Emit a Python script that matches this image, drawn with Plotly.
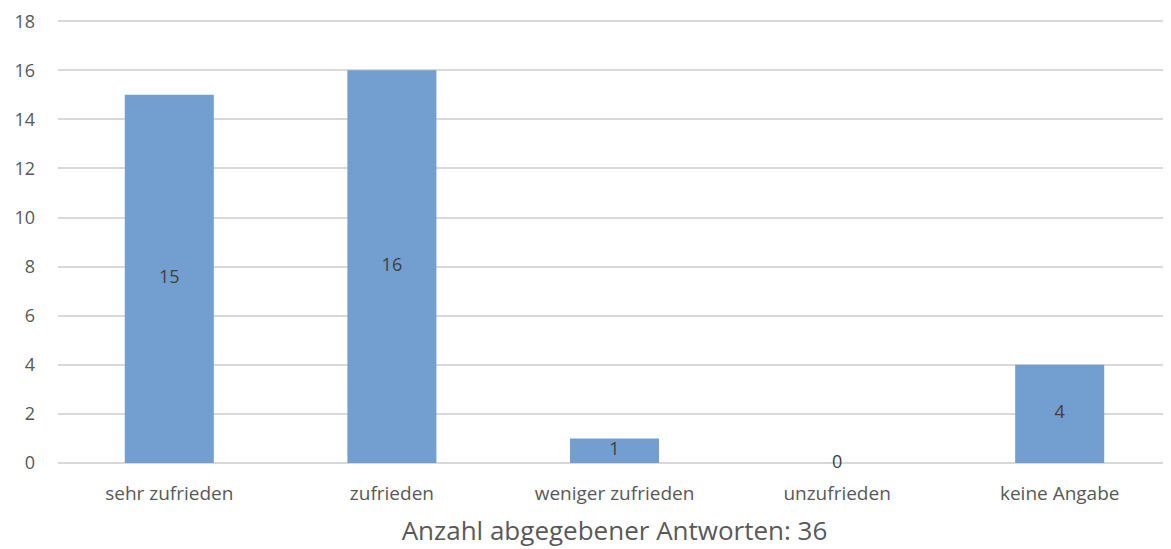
import plotly.graph_objects as go

# survey answers
categories = ["sehr zufrieden", "zufrieden", "weniger zufrieden", "unzufrieden", "keine Angabe"]
counts = [15, 16, 1, 0, 4]
y_ticks = [0, 2, 4, 6, 8, 10, 12, 14, 16, 18]
x_title = "Anzahl abgegebener Antworten: 36"

font_name = "Open Sans"
grey = "#595959"

fig = go.Figure()
fig.add_trace(go.Bar(x=categories, y=counts, marker_color="#729FCF",
                     marker_line_width=0, hoverinfo="x+y"))

# value labels centred in each bar (0 sits on the baseline)
fig.add_trace(go.Scatter(x=categories, y=[c / 2 for c in counts], mode="text",
                         text=[str(c) for c in counts], textposition="middle center",
                         textfont=dict(family=font_name, size=18, color="#404040"),
                         cliponaxis=False, hoverinfo="skip"))

# page body adds 8px, so margins are shifted to keep the plot area in place
fig.update_layout(
    width=1171, height=549,
    margin=dict(l=50, r=8, t=12, b=94),
    paper_bgcolor="white", plot_bgcolor="white",
    showlegend=False, bargap=0.6,
    font=dict(family=font_name, size=18, color=grey),
)
fig.update_xaxes(showgrid=False, showline=False, ticks="", tickfont=dict(size=19),
                 ticklabelstandoff=17, automargin=False,
                 title=dict(text=x_title, font=dict(size=26, color=grey), standoff=16))
# range slightly past 18 so the top gridline is drawn
fig.update_yaxes(range=[0, 18.05], tickvals=y_ticks, showgrid=True, gridcolor="#D9D9D9",
                 gridwidth=1.5, zeroline=True, zerolinecolor="#D9D9D9", zerolinewidth=1.5,
                 showline=False, ticks="", ticklabelstandoff=22, tickfont=dict(size=18),
                 automargin=False)

fig.write_html("out.html")
